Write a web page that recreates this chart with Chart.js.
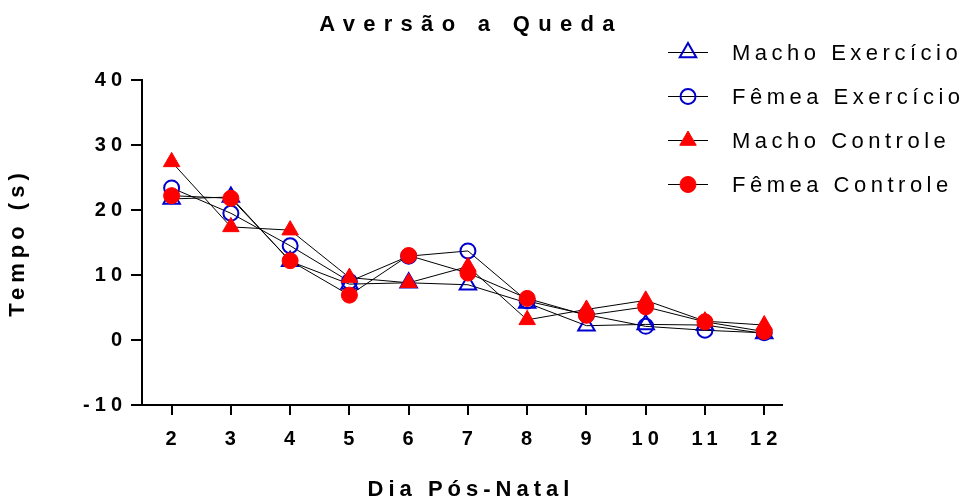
<!DOCTYPE html>
<html>
<head>
<meta charset="utf-8">
<script src="https://cdn.jsdelivr.net/npm/chart.js@4/dist/chart.umd.min.js"></script>
<style>
html,body{margin:0;padding:0;background:#fff;}
#wrap{width:968px;height:501px;position:relative;}
</style>
</head>
<body>
<div id="wrap"><canvas id="c" width="968" height="501"></canvas></div>
<script>
const chartTitle = 'Aversão a Queda';
const xAxisTitle = 'Dia Pós-Natal';
const yAxisTitle = 'Tempo (s)';
const days = [2, 3, 4, 5, 6, 7, 8, 9, 10, 11, 12];
const seriesNames = ['Macho Exercício', 'Fêmea Exercício', 'Macho Controle', 'Fêmea Controle'];
const machoExercicio = [21.7, 22.0, 12.1, 8.6, 8.8, 8.5, 5.7, 2.2, 2.4, 2.3, 1.0];
const femeaExercicio = [23.4, 19.5, 14.5, 9.0, 12.9, 13.7, 6.0, 3.9, 2.1, 1.5, 1.1];
const machoControle  = [27.4, 17.4, 16.9, 9.6, 8.8, 11.3, 3.1, 4.7, 6.1, 2.9, 2.3];
const femeaControle  = [22.2, 21.8, 12.2, 6.9, 13.0, 10.3, 6.4, 3.8, 5.1, 2.8, 1.3];
const yTicks = [-10, 0, 10, 20, 30, 40];

const FONT = "'Liberation Sans', Arial, Helvetica, sans-serif";
const BLUE = '#0000CC';
const RED = '#FF0000';

function toPts(vals){ return days.map((d,i)=>({x:d, y:vals[i]})); }

const styles = [
  {pointStyle:'triangle', radius:9.5, bg:'rgba(0,0,0,0)', border:BLUE, bw:2, order:4},
  {pointStyle:'circle', radius:7.5, bg:'rgba(0,0,0,0)', border:BLUE, bw:2, order:3},
  {pointStyle:'triangle', radius:9.5, bg:RED, border:RED, bw:1, order:2},
  {pointStyle:'circle', radius:8, bg:RED, border:RED, bw:1, order:1}
];
const allVals = [machoExercicio, femeaExercicio, machoControle, femeaControle];

const datasets = allVals.map((v,i)=>({
  label: seriesNames[i],
  data: toPts(v),
  order: styles[i].order,
  borderColor: '#000',
  borderWidth: 1,
  pointStyle: styles[i].pointStyle,
  pointRadius: styles[i].radius,
  pointBackgroundColor: styles[i].bg,
  pointBorderColor: styles[i].border,
  pointBorderWidth: styles[i].bw,
  tension: 0,
  fill: false
}));

function spaced(fn, s, dx){
  return function(...a){
    const c = this.ctx;
    c.save();
    c.letterSpacing = s;
    if (dx) c.translate(dx, 0);
    try { return fn.apply(this, a); } finally { c.restore(); }
  };
}

const spacingPlugin = {
  id: 'spacing',
  beforeDraw(chart){
    if (chart.$spaced) return;
    chart.$spaced = true;
    const x = chart.scales.x, y = chart.scales.y;
    x.drawLabels = spaced(x.drawLabels, '5px', 2);
    y.drawLabels = spaced(y.drawLabels, '5px', 0);
    x.drawTitle = spaced(x.drawTitle, '5px', 9);
    y.drawTitle = spaced(y.drawTitle, '5px', 0);
    if (chart.titleBlock) chart.titleBlock.draw = spaced(chart.titleBlock.draw, '8.3px', 9);
  }
};

const legendPlugin = {
  id: 'customLegend',
  afterDraw(chart){
    const ctx = chart.ctx;
    ctx.save();
    chart.data.datasets.forEach((ds, i) => {
      const cy = 52.5 + i * 44;
      ctx.strokeStyle = '#000';
      ctx.lineWidth = 1;
      ctx.beginPath();
      ctx.moveTo(668, cy);
      ctx.lineTo(708, cy);
      ctx.stroke();
      ctx.fillStyle = ds.pointBackgroundColor;
      ctx.strokeStyle = ds.pointBorderColor;
      ctx.lineWidth = ds.pointBorderWidth;
      Chart.helpers.drawPoint(ctx, {pointStyle: ds.pointStyle, radius: ds.pointRadius, rotation: 0, borderWidth: ds.pointBorderWidth}, 688, cy);
      ctx.fillStyle = '#000';
      ctx.font = '22px ' + FONT;
      ctx.letterSpacing = '4.5px';
      ctx.textAlign = 'left';
      ctx.textBaseline = 'middle';
      ctx.fillText(ds.label, 732, cy + 1);
      ctx.letterSpacing = '0px';
    });
    ctx.restore();
  }
};

new Chart(document.getElementById('c'), {
  type: 'line',
  data: { datasets },
  plugins: [spacingPlugin, legendPlugin],
  options: {
    responsive: false,
    animation: false,
    devicePixelRatio: 1,
    layout: { padding: { left: 0, right: 186, top: 0, bottom: 0 } },
    plugins: {
      legend: { display: false },
      tooltip: { enabled: false },
      title: {
        display: true,
        text: chartTitle,
        fullSize: false,
        color: '#000',
        font: { family: FONT, size: 22, weight: 'bold' },
        padding: { top: 12, bottom: 41.6 }
      }
    },
    scales: {
      x: {
        type: 'linear',
        min: 1.5,
        max: 12.3,
        afterBuildTicks: s => { s.ticks = days.map(v => ({ value: v })); },
        afterFit: s => { s.height = 96; },
        ticks: { color: '#000', font: { family: FONT, size: 20, weight: 'bold' }, padding: 12, autoSkip: false, maxRotation: 0 },
        grid: { drawOnChartArea: false, drawTicks: true, tickLength: 10, color: '#000', lineWidth: 2 },
        border: { color: '#000', width: 2 },
        title: { display: true, text: xAxisTitle, color: '#000', font: { family: FONT, size: 22, weight: 'bold', lineHeight: 1 }, padding: { top: 0, bottom: 0 } }
      },
      y: {
        min: -10,
        max: 40,
        afterBuildTicks: s => { s.ticks = yTicks.map(v => ({ value: v })); },
        afterFit: s => { s.width = 142; },
        ticks: { color: '#000', font: { family: FONT, size: 20, weight: 'bold' }, padding: 4 },
        grid: { drawOnChartArea: false, drawTicks: true, tickLength: 11, color: '#000', lineWidth: 2 },
        border: { color: '#000', width: 2 },
        title: { display: true, text: yAxisTitle, color: '#000', font: { family: FONT, size: 22, weight: 'bold', lineHeight: 1 }, padding: { top: 7, bottom: 0 } }
      }
    }
  }
});
</script>
</body>
</html>
